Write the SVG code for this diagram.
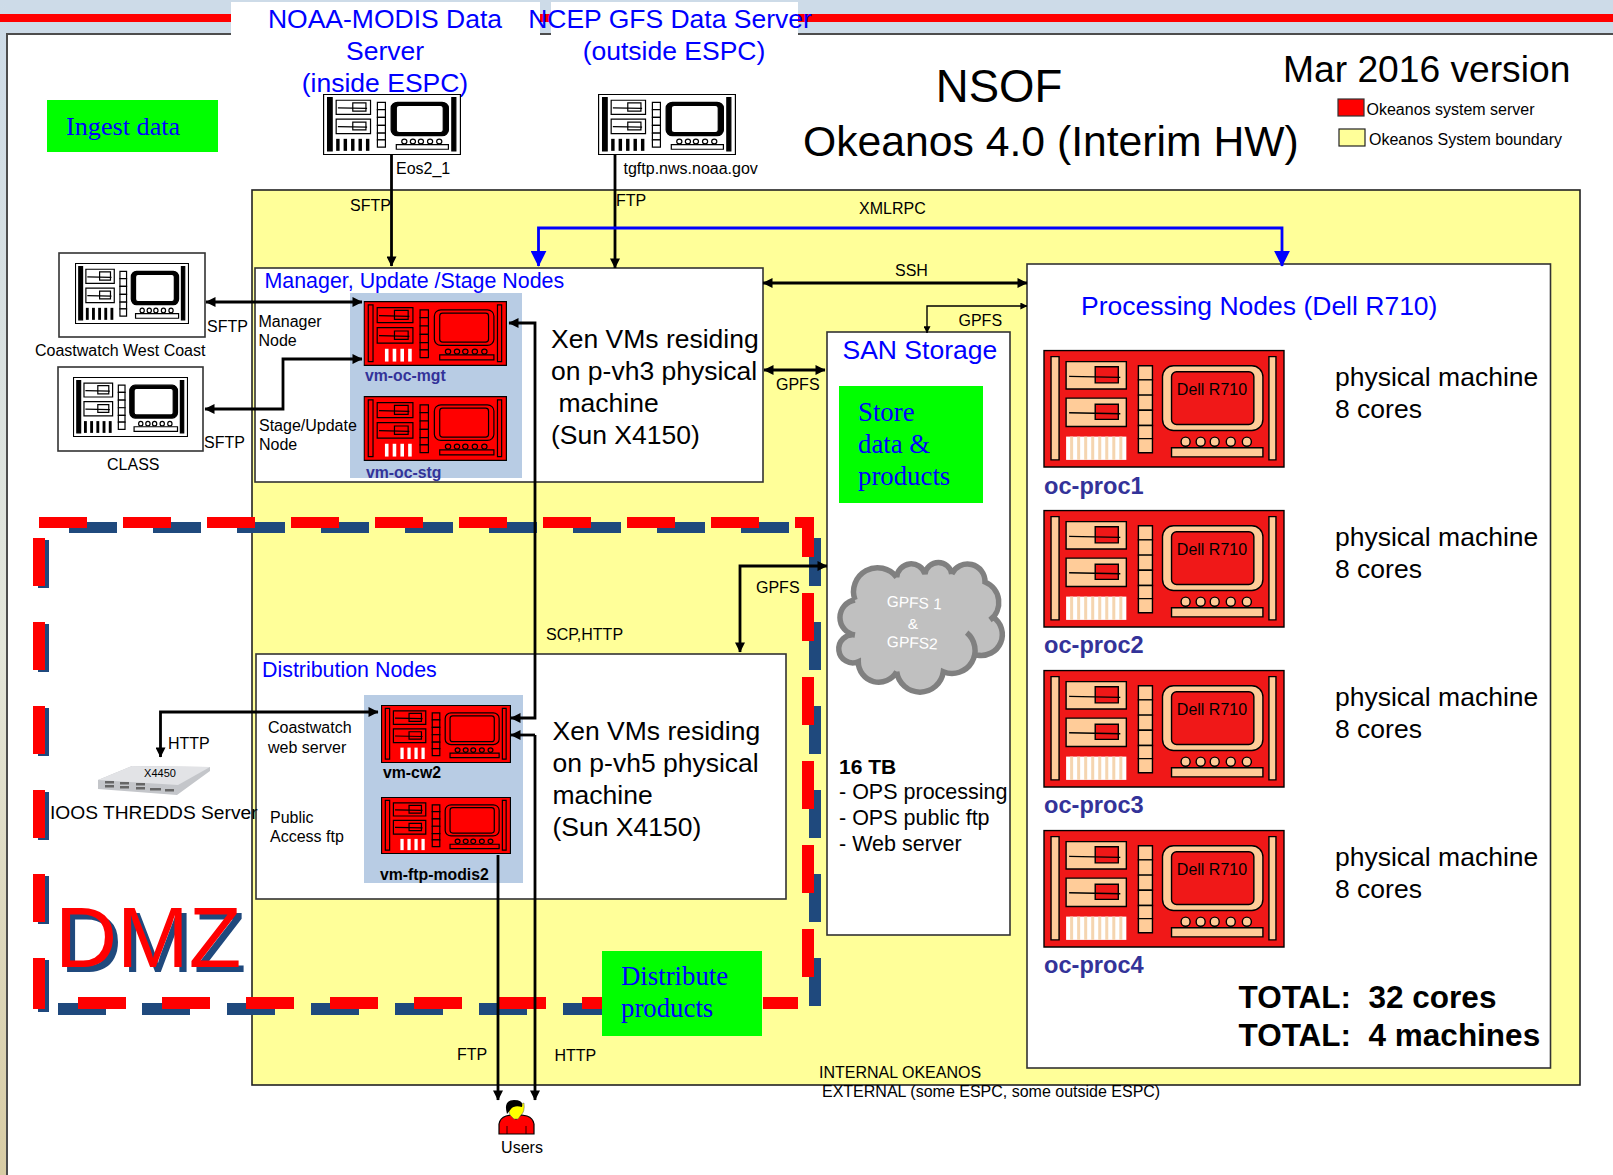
<svg xmlns="http://www.w3.org/2000/svg" width="1613" height="1175" viewBox="0 0 1613 1175">
<style>
text{font-family:"Liberation Sans",Arial,sans-serif;fill:#000;white-space:pre}
.s{font-size:16px}
.blue{fill:#0000ff}
.h1{font-size:26.5px}
.h2{font-size:21.4px}
.b{font-size:26.5px}
.serif{font-family:"Liberation Serif","Times New Roman",serif;fill:#0000ff;font-size:26.8px}
.vm{font-size:15.8px;font-weight:bold;fill:#333399}
.vmk{font-size:15.8px;font-weight:bold}
.proc{font-size:23.6px;font-weight:bold;fill:#333399}
.tot{font-size:31.5px;font-weight:bold}
.box{fill:#fff;stroke:#333;stroke-width:1.6}
.yl{fill:#ffff99;stroke:#222;stroke-width:1.6}
.vmbg{fill:#b8cce4}
.green{fill:#00ff00}
.k{fill:none;stroke:#000;stroke-width:2.8}
.kh{marker-end:url(#a)}
.kt{marker-start:url(#ar)}
.bl{fill:none;stroke:#0000ff;stroke-width:2.8}
.rd{fill:#ff0000}
.nv{fill:#1f497d}
.p{stroke:#000;stroke-width:var(--sw);vector-effect:non-scaling-stroke}
.body{fill:var(--body)}
.bar{fill:var(--bar)}
.bx{fill:var(--bx)}
.sm{fill:var(--sm)}
.cell{fill:var(--cell)}
.mon{fill:var(--mon)}
.scr{fill:var(--scr)}
.pt{fill:var(--pt)}
.st{fill:var(--st)}
.st1{fill:var(--st1)}
.sb{fill:var(--sb)}
.fn{fill:var(--fn)}
.wk{--body:#fff;--bar:#000;--bx:#fff;--sm:#fff;--cell:#fff;--mon:#000;--scr:#fff;--pt:#fff;--st:#000;--st1:#000;--sb:#fff;--fn:none;--sw:1.2px}
.rv{--body:#ff0000;--bar:#ff0000;--bx:#ff0000;--sm:#ff0000;--cell:#ff0000;--mon:#ff0000;--scr:#ff0000;--pt:#ff0000;--st:#fff;--st1:#ff0000;--sb:#ff0000;--fn:none;--sw:1.2px}
.pv{--body:#f01818;--bar:#ffcc99;--bx:#ffcc99;--sm:#f01818;--cell:#ffcc99;--mon:#ffcc99;--scr:#f01818;--pt:#ffcc99;--st:none;--st1:none;--sb:#fff;--fn:#f5d5b0;--sw:1.4px}
</style>
<defs>
<linearGradient id="edge" x1="0" y1="0" x2="0" y2="1"><stop offset="0" stop-color="#cddbe8"/><stop offset="0.55" stop-color="#e4e6da"/><stop offset="1" stop-color="#d8cca4"/></linearGradient>
<filter id="soft" x="-5%" y="-5%" width="110%" height="110%"><feGaussianBlur stdDeviation="0.7"/></filter>
<marker id="a" viewBox="0 0 10 10" refX="9.5" refY="5" markerWidth="11" markerHeight="10" markerUnits="userSpaceOnUse" orient="auto"><path d="M0 0L10 5L0 10z" fill="#000"/></marker>
<marker id="ar" viewBox="0 0 10 10" refX="0.5" refY="5" markerWidth="11" markerHeight="10" markerUnits="userSpaceOnUse" orient="auto"><path d="M10 0L0 5L10 10z" fill="#000"/></marker>
<marker id="sm" viewBox="0 0 10 10" refX="9.5" refY="5" markerWidth="7" markerHeight="7" markerUnits="userSpaceOnUse" orient="auto"><path d="M0 0L10 5L0 10z" fill="#000"/></marker>
<marker id="smr" viewBox="0 0 10 10" refX="0.5" refY="5" markerWidth="7" markerHeight="7" markerUnits="userSpaceOnUse" orient="auto"><path d="M10 0L0 5L10 10z" fill="#000"/></marker>
<marker id="bh" viewBox="0 0 10 10" refX="9.5" refY="5" markerWidth="16" markerHeight="16" markerUnits="userSpaceOnUse" orient="auto"><path d="M0 0L10 5L0 10z" fill="#0000ff"/></marker>
<symbol id="srv" viewBox="0 0 241 117" preserveAspectRatio="none">
<rect class="p body" x="1" y="1" width="239" height="115"/>
<rect class="p bar" x="8" y="7" width="8" height="102"/>
<rect class="p bar" x="225" y="7" width="7" height="102"/>
<rect class="p bx" x="23" y="12" width="60" height="27"/>
<rect class="p sm" x="52" y="17" width="23" height="16"/>
<path class="p" d="M26 26.500L77 27.500" fill="none"/>
<rect class="p bx" x="23" y="48" width="60" height="28"/>
<rect class="p sm" x="52" y="54" width="23" height="15"/>
<path class="p" d="M26 62.500L77 63.500" fill="none"/>
<rect class="sb" x="23" y="86" width="60" height="23"/>
<rect class="st1" x="23" y="86" width="6" height="23"/>
<rect class="st" x="36" y="86" width="6" height="23"/>
<rect class="st" x="49" y="86" width="6" height="23"/>
<rect class="st" x="62" y="86" width="6" height="23"/>
<rect class="st" x="75" y="86" width="6" height="23"/>
<rect class="fn" x="27" y="86" width="3" height="23"/><rect class="fn" x="34" y="86" width="3" height="23"/><rect class="fn" x="41" y="86" width="3" height="23"/><rect class="fn" x="48" y="86" width="3" height="23"/><rect class="fn" x="55" y="86" width="3" height="23"/><rect class="fn" x="62" y="86" width="3" height="23"/><rect class="fn" x="69" y="86" width="3" height="23"/><rect class="fn" x="76" y="86" width="3" height="23"/>
<rect class="p cell" x="95" y="16" width="14" height="14"/><rect class="p cell" x="95" y="30" width="14" height="15"/><rect class="p cell" x="95" y="45" width="14" height="15"/><rect class="p cell" x="95" y="60" width="14" height="15"/><rect class="p cell" x="95" y="75" width="14" height="13"/><rect class="p cell" x="95" y="88" width="14" height="14"/>
<rect class="p mon" x="119" y="16" width="100" height="64" rx="11"/>
<rect class="p scr" x="128" y="22" width="82" height="52" rx="5"/>
<circle class="p pt" cx="142" cy="91" r="4.500"/><circle class="p pt" cx="157" cy="91" r="4.500"/><circle class="p pt" cx="171" cy="91" r="4.500"/><circle class="p pt" cx="187" cy="91" r="4.500"/><circle class="p pt" cx="203" cy="91" r="4.500"/>
<rect class="p pt" x="128" y="97" width="91" height="9"/>
</symbol>
</defs>

<g id="page">
<rect x="0" y="0" width="1613" height="1175" fill="#fff"/>
<rect x="0" y="0" width="1613" height="34" fill="#cddbe8"/>
<rect x="0" y="0" width="7" height="1175" fill="url(#edge)"/>
<rect x="0" y="14" width="1613" height="8" class="rd"/>
<rect x="6" y="33" width="1607" height="2" fill="#4d4d4d"/>
<rect x="6" y="33" width="2" height="1142" fill="#4d4d4d"/>
<rect x="231" y="2" width="309" height="33" fill="#fff"/>
<rect x="551" y="2" width="247" height="33" fill="#fff"/>
</g>

<g id="okeanos-boundary"><rect class="yl" x="252" y="190" width="1328" height="895"/></g>

<g id="title">
<text x="999" y="102" text-anchor="middle" font-size="45.500">NSOF</text>
<text x="803" y="156" font-size="42.700">Okeanos 4.0 (Interim HW)</text>
<text x="1283" y="82" font-size="37.200">Mar 2016 version</text>
</g>
<g id="legend">
<rect x="1338" y="99" width="26" height="17" fill="#ff0000" stroke="#333" stroke-width="1.200"/>
<text x="1366.500" y="115" class="s">Okeanos system server</text>
<rect x="1339" y="129" width="26" height="17" fill="#ffff99" stroke="#222" stroke-width="1.200"/>
<text x="1369" y="145" class="s">Okeanos System boundary</text>
</g>

<g id="ingest"><rect class="green" x="47" y="100" width="171" height="52"/><text x="66" y="135" class="serif" style="font-size:26.2px">Ingest data</text></g>

<g id="dmz">
<g class="nv">
<rect x="69" y="522" width="48" height="11"/><rect x="153" y="522" width="48" height="11"/><rect x="237" y="522" width="48" height="11"/><rect x="321" y="522" width="48" height="11"/><rect x="405" y="522" width="48" height="11"/><rect x="489" y="522" width="48" height="11"/><rect x="573" y="522" width="48" height="11"/><rect x="657" y="522" width="48" height="11"/><rect x="741" y="522" width="48" height="11"/>
<rect x="809" y="538" width="12" height="48"/><rect x="809" y="622" width="12" height="48"/><rect x="809" y="706" width="12" height="48"/><rect x="809" y="790" width="12" height="48"/><rect x="809" y="874" width="12" height="48"/><rect x="809" y="958" width="12" height="48"/>
<rect x="38" y="540" width="11" height="48"/><rect x="38" y="624" width="11" height="48"/><rect x="38" y="708" width="11" height="48"/><rect x="38" y="792" width="11" height="48"/><rect x="38" y="876" width="11" height="48"/><rect x="38" y="960" width="11" height="52"/>
<rect x="58" y="1003" width="48" height="12"/><rect x="142" y="1003" width="48" height="12"/><rect x="227" y="1003" width="48" height="12"/><rect x="311" y="1003" width="48" height="12"/><rect x="395" y="1003" width="48" height="12"/><rect x="479" y="1003" width="48" height="12"/><rect x="563" y="1003" width="48" height="12"/>
</g>
<g class="rd">
<rect x="39" y="517" width="48" height="11"/><rect x="123" y="517" width="48" height="11"/><rect x="207" y="517" width="48" height="11"/><rect x="291" y="517" width="48" height="11"/><rect x="375" y="517" width="48" height="11"/><rect x="459" y="517" width="48" height="11"/><rect x="543" y="517" width="48" height="11"/><rect x="627" y="517" width="48" height="11"/><rect x="711" y="517" width="48" height="11"/><rect x="795" y="517" width="19" height="11"/>
<rect x="802" y="517" width="12" height="40"/><rect x="802" y="593" width="12" height="48"/><rect x="802" y="677" width="12" height="48"/><rect x="802" y="761" width="12" height="48"/><rect x="802" y="845" width="12" height="48"/><rect x="802" y="929" width="12" height="48"/>
<rect x="33" y="538" width="12" height="48"/><rect x="33" y="622" width="12" height="48"/><rect x="33" y="706" width="12" height="48"/><rect x="33" y="790" width="12" height="48"/><rect x="33" y="874" width="12" height="48"/><rect x="33" y="958" width="12" height="51"/>
<rect x="78" y="997" width="48" height="12"/><rect x="162" y="997" width="48" height="12"/><rect x="246" y="997" width="48" height="12"/><rect x="330" y="997" width="48" height="12"/><rect x="414" y="997" width="48" height="12"/><rect x="498" y="997" width="48" height="12"/><rect x="582" y="997" width="48" height="12"/><rect x="763" y="997" width="35" height="12"/>
</g>
<text x="55" y="967" font-size="86" style="fill:#ff0000;filter:drop-shadow(5px 5px 0 #1f497d)">DMZ</text>
</g>

<g id="manager-box">
<rect class="box" x="255" y="268" width="508" height="214"/>
<rect class="vmbg" x="350" y="293" width="172" height="185"/>
<text x="264.500" y="288" class="h2 blue">Manager, Update /Stage Nodes</text>
<text x="258.500" y="327" class="s">Manager</text><text x="258.500" y="346" class="s">Node</text>
<text x="259" y="431" class="s">Stage/Update</text><text x="259" y="450" class="s">Node</text>
<text x="551" y="348" class="b">Xen VMs residing</text><text x="551" y="380" class="b">on p-vh3 physical</text><text x="558.500" y="412" class="b">machine</text><text x="551" y="444" class="b">(Sun X4150)</text>
</g>
<g id="vm-oc-mgt"><use href="#srv" class="rv" x="363.500" y="301" width="143.500" height="65"/><text x="365" y="381" class="vm">vm-oc-mgt</text></g>
<g id="vm-oc-stg"><use href="#srv" class="rv" x="363.500" y="396" width="143.500" height="65"/><text x="366" y="478" class="vm">vm-oc-stg</text></g>

<g id="distribution-box">
<rect class="box" x="256" y="654" width="530" height="245"/>
<rect class="vmbg" x="364" y="695" width="159" height="188"/>
<text x="262" y="677" class="h2 blue">Distribution Nodes</text>
<text x="268" y="733" class="s">Coastwatch</text><text x="268" y="753" class="s">web server</text>
<text x="270" y="823" class="s">Public</text><text x="270" y="842" class="s">Access ftp</text>
<text x="552.500" y="740" class="b">Xen VMs residing</text><text x="552.500" y="772" class="b">on p-vh5 physical</text><text x="552.500" y="804" class="b">machine</text><text x="552.500" y="836" class="b">(Sun X4150)</text>
</g>
<g id="vm-cw2"><use href="#srv" class="rv" x="381" y="705" width="130" height="58"/><text x="383" y="778" class="vmk">vm-cw2</text></g>
<g id="vm-ftp-modis2"><use href="#srv" class="rv" x="381" y="797" width="130" height="57"/><text x="380" y="880" class="vmk">vm-ftp-modis2</text></g>

<g id="san">
<rect class="box" x="827" y="332" width="183" height="603"/>
<text x="842.500" y="359" class="h1 blue">SAN Storage</text>
<rect class="green" x="839" y="386" width="144" height="117"/>
<text x="858" y="421" class="serif">Store</text><text x="858" y="453" class="serif">data &amp;</text><text x="858" y="485" class="serif">products</text>
<text x="839" y="774" font-size="21" font-weight="bold">16 TB</text>
<text x="839" y="799" font-size="21.500">- OPS processing</text><text x="839" y="825" font-size="21.500">- OPS public ftp</text><text x="839" y="851" font-size="21.500">- Web server</text>
</g>
<g id="gpfs-cloud">
<path d="M855 600A24 24 0 0 1 896.700 577.300A14.500 14.500 0 0 1 925 574A13.500 13.500 0 0 1 951.700 574A17.500 17.500 0 0 1 985 582A22 22 0 0 1 993 617A21 21 0 0 1 977 655A24 24 0 0 1 943.300 671.700A23.500 23.500 0 0 1 896.700 671.700A20.500 20.500 0 0 1 858.300 661.700A14 14 0 1 1 855 635A17.700 17.700 0 0 1 855 600Z" fill="#c0c0c0"/>
<path d="M855 600A24 24 0 0 1 896.700 577.300M896.700 577.300A14.500 14.500 0 0 1 925 574A13.500 13.500 0 0 1 951.700 574M951.700 574A17.500 17.500 0 0 1 985 582A22 22 0 0 1 990 620M993 617A21 21 0 0 1 977 655M966.700 632.700A23 23 0 0 1 943.300 671.700A23.500 23.500 0 0 1 896.700 671.700M896.700 671.700A20.500 20.500 0 0 1 858.300 661.700A14 14 0 1 1 855 635M855 635A17.700 17.700 0 0 1 855 600" fill="none" stroke="#808080" stroke-width="5.500"/>
<text x="914" y="608" text-anchor="middle" font-size="15.500" transform="rotate(3 914 608)" style="fill:#fff">GPFS 1</text>
<text x="913" y="629" text-anchor="middle" font-size="15.500" style="fill:#fff">&amp;</text>
<text x="912" y="648" text-anchor="middle" font-size="15.500" transform="rotate(3 912 648)" style="fill:#fff">GPFS2</text>
</g>

<g id="processing-box">
<rect class="box" x="1027" y="264" width="523.500" height="804"/>
<text x="1081" y="315" class="h1 blue">Processing Nodes (Dell R710)</text>
<text x="1238.500" y="1008" class="tot">TOTAL:  32 cores</text>
<text x="1238.500" y="1046" class="tot">TOTAL:  4 machines</text>
</g>
<g id="oc-proc1"><use href="#srv" class="pv" x="1043" y="349.500" width="242" height="118.500"/><text x="1212" y="395" class="s" text-anchor="middle">Dell R710</text><text x="1044" y="494" class="proc">oc-proc1</text><text x="1335" y="386" class="b">physical machine</text><text x="1335" y="418" class="b">8 cores</text></g>
<g id="oc-proc2"><use href="#srv" class="pv" x="1043" y="509.500" width="242" height="118.500"/><text x="1212" y="555" class="s" text-anchor="middle">Dell R710</text><text x="1044" y="653" class="proc">oc-proc2</text><text x="1335" y="546" class="b">physical machine</text><text x="1335" y="578" class="b">8 cores</text></g>
<g id="oc-proc3"><use href="#srv" class="pv" x="1043" y="669.500" width="242" height="118.500"/><text x="1212" y="715" class="s" text-anchor="middle">Dell R710</text><text x="1044" y="813" class="proc">oc-proc3</text><text x="1335" y="706" class="b">physical machine</text><text x="1335" y="738" class="b">8 cores</text></g>
<g id="oc-proc4"><use href="#srv" class="pv" x="1043" y="829.500" width="242" height="118.500"/><text x="1212" y="875" class="s" text-anchor="middle">Dell R710</text><text x="1044" y="973" class="proc">oc-proc4</text><text x="1335" y="866" class="b">physical machine</text><text x="1335" y="898" class="b">8 cores</text></g>

<g id="distribute"><rect class="green" x="602" y="951" width="160" height="85"/><text x="621" y="985" class="serif">Distribute</text><text x="621" y="1017" class="serif">products</text></g>

<g id="noaa-modis">
<text x="385" y="28" class="h1 blue" text-anchor="middle">NOAA-MODIS Data</text><text x="385" y="60" class="h1 blue" text-anchor="middle">Server</text><text x="385" y="92" class="h1 blue" text-anchor="middle">(inside ESPC)</text>
<use href="#srv" class="wk" x="323" y="94" width="138" height="61"/>
<text x="396" y="174" class="s">Eos2_1</text>
</g>
<g id="ncep-gfs">
<text x="670" y="28" class="h1 blue" text-anchor="middle">NCEP GFS Data Server</text><text x="674" y="60" class="h1 blue" text-anchor="middle">(outside ESPC)</text>
<use href="#srv" class="wk" x="598" y="94" width="138" height="61"/>
<text x="623.500" y="174" class="s">tgftp.nws.noaa.gov</text>
</g>
<g id="coastwatch">
<rect class="box" x="59" y="253" width="146" height="84" stroke="#000"/>
<use href="#srv" class="wk" x="75" y="263" width="114" height="61"/>
<text x="35" y="356" class="s">Coastwatch West Coast</text>
</g>
<g id="class">
<rect class="box" x="58" y="367" width="145" height="84"/>
<use href="#srv" class="wk" x="73" y="377" width="115" height="60"/>
<text x="107" y="470" class="s">CLASS</text>
</g>
<g id="thredds">
<g filter="url(#soft)">
<path d="M98 780L132 766L210 767L210 771L177 795L98 789Z" fill="#c4c6ca"/>
<path d="M98 780L132 766L210 767L178 785Z" fill="#e2e3e6"/>
<rect x="105" y="781" width="9" height="2.500" fill="#666"/><rect x="105" y="785" width="9" height="2.500" fill="#666"/><rect x="120" y="782" width="9" height="2.500" fill="#666"/><rect x="120" y="786" width="9" height="2.500" fill="#666"/><rect x="136" y="783" width="9" height="2.500" fill="#666"/><rect x="136" y="787" width="9" height="2.500" fill="#666"/><rect x="150" y="788" width="11" height="2.500" fill="#666"/><rect x="165" y="789" width="9" height="2.500" fill="#666"/>
</g>
<text x="160" y="777" text-anchor="middle" font-size="11">X4450</text>
<text x="50" y="819" font-size="19.200">IOOS THREDDS Server</text>
</g>
<g id="users">
<path d="M499 1134V1124Q500 1118 506 1116L511 1115L516 1119L521 1115L527 1116Q533 1118 534 1124V1134Z" fill="#ff0000" stroke="#000" stroke-width="1.200"/>
<path d="M507 1126V1134M526 1126V1134" fill="none" stroke="#000" stroke-width="0.800"/>
<path d="M508 1108L524 1103Q525 1112 521 1115L518 1119L514 1119L510 1115Z" fill="#ffff00" stroke="#555" stroke-width="0.500"/>
<path d="M507 1114Q503 1100 514 1100Q524 1100 522 1107Q514 1105 511 1109Z" fill="#000"/>
<text x="522" y="1153" text-anchor="middle" class="s">Users</text>
</g>

<g id="connectors">
<path class="k kh" d="M391.500 155V266"/>
<path class="k kh" d="M615 155V268"/>
<path class="bl" marker-end="url(#bh)" d="M600 228H538.500V266"/>
<path class="bl" marker-end="url(#bh)" d="M600 228H1282V266"/>
<path class="k kh kt" d="M763 283H1027"/>
<path d="M1027 306H927V333" fill="none" stroke="#000" stroke-width="1.400" marker-start="url(#smr)" marker-end="url(#sm)"/>
<path class="k kh kt" d="M764 370H825"/>
<path class="k kh kt" d="M206 302H362"/>
<path class="k kh kt" d="M205 409H283V359H362"/>
<path class="k kh kt" d="M509 323H535V718H511"/>
<path class="k kh" d="M535 735H511"/>
<path class="k kh" d="M535 735V1100"/>
<path class="k kh" d="M498 855V1100"/>
<path class="k kh kt" d="M160.500 757V712H378"/>
<path class="k kh kt" d="M740 652V566H827"/>
</g>

<g id="connector-labels">
<text x="350" y="211" class="s">SFTP</text>
<text x="616" y="206" class="s">FTP</text>
<text x="859" y="214" class="s">XMLRPC</text>
<text x="895" y="276" class="s">SSH</text>
<text x="958.500" y="326" class="s">GPFS</text>
<text x="776" y="390" class="s">GPFS</text>
<text x="207" y="332" class="s">SFTP</text>
<text x="204" y="448" class="s">SFTP</text>
<text x="756" y="593" class="s">GPFS</text>
<text x="546" y="640" class="s">SCP,HTTP</text>
<text x="168" y="749" class="s">HTTP</text>
<text x="457" y="1060" class="s">FTP</text>
<text x="554.500" y="1061" class="s">HTTP</text>
<text x="819" y="1078" font-size="16">INTERNAL OKEANOS</text>
<text x="822" y="1097" font-size="16">EXTERNAL (some ESPC, some outside ESPC)</text>
</g>
</svg>
